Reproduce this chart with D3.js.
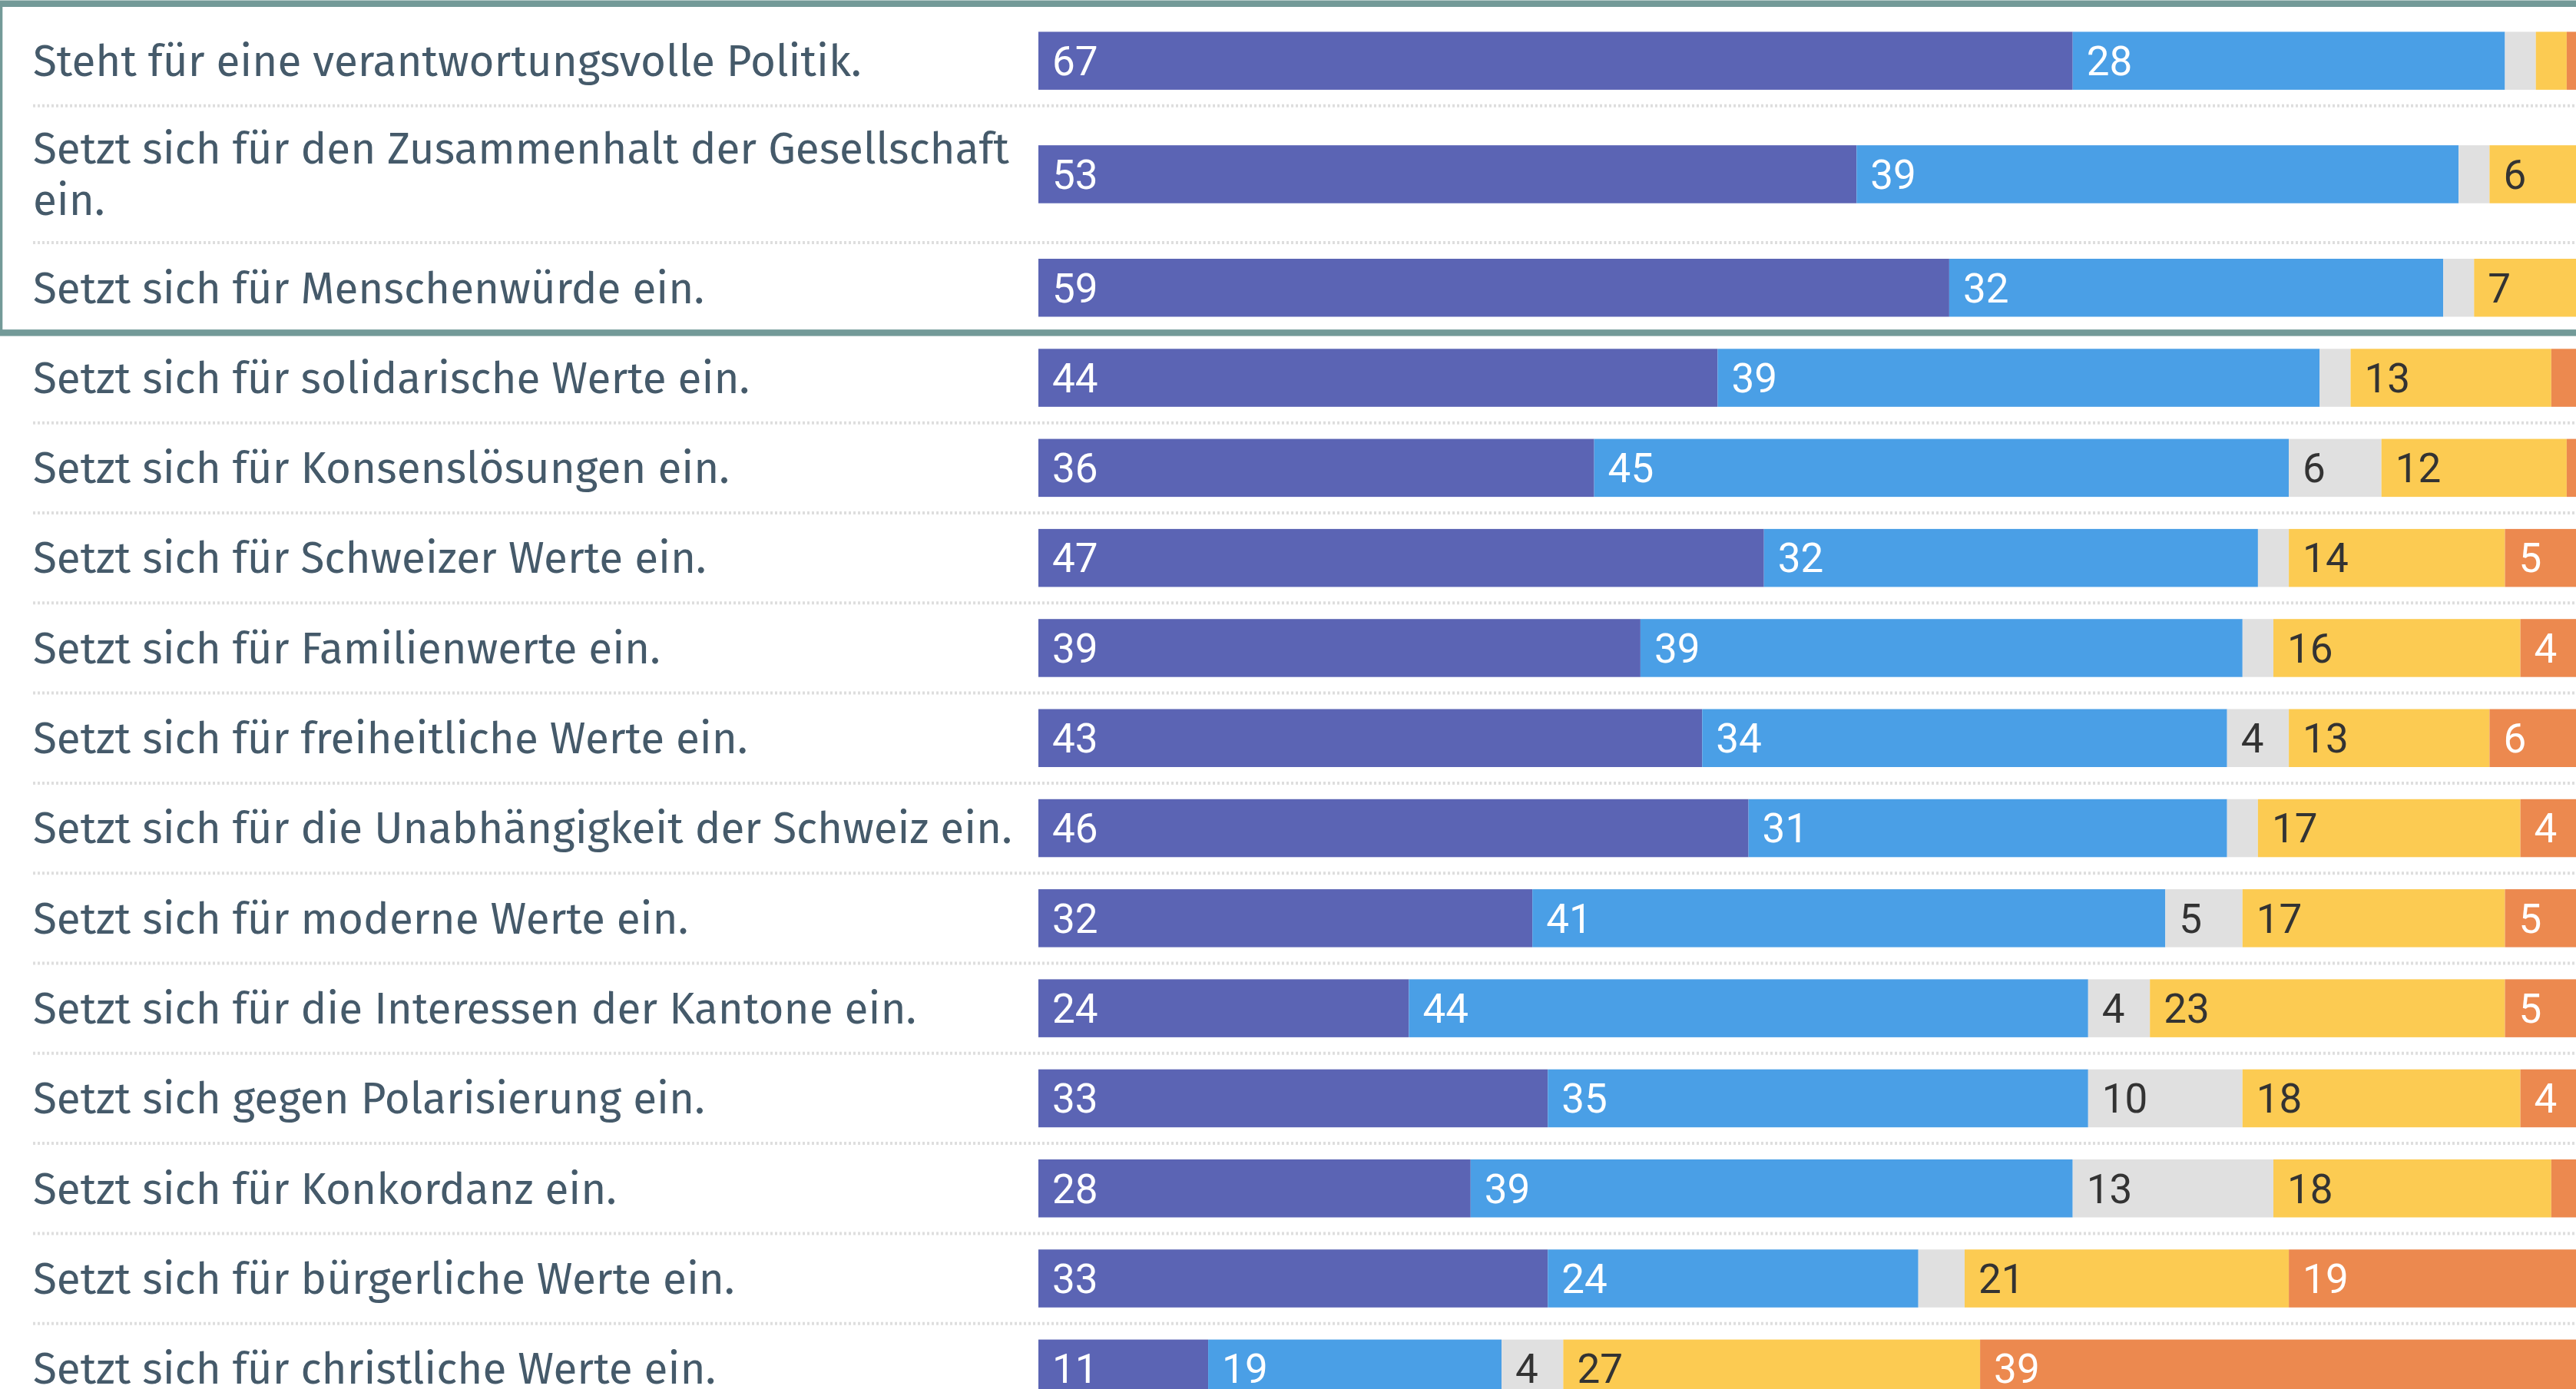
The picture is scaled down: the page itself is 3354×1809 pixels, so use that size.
<!DOCTYPE html>
<html>
<head>
<meta charset="utf-8">
<script src="https://cdn.jsdelivr.net/npm/d3@7"></script>
<style>
  html, body { margin: 0; padding: 0; background: #ffffff; overflow: hidden; }
  svg { display: block; }
</style>
</head>
<body>
<svg id="chart" width="3354" height="1809"></svg>
<script>
// ---------------- data ----------------
const categories = [
  "Steht für eine verantwortungsvolle Politik.",
  "Setzt sich für den Zusammenhalt der Gesellschaft ein.",
  "Setzt sich für Menschenwürde ein.",
  "Setzt sich für solidarische Werte ein.",
  "Setzt sich für Konsenslösungen ein.",
  "Setzt sich für Schweizer Werte ein.",
  "Setzt sich für Familienwerte ein.",
  "Setzt sich für freiheitliche Werte ein.",
  "Setzt sich für die Unabhängigkeit der Schweiz ein.",
  "Setzt sich für moderne Werte ein.",
  "Setzt sich für die Interessen der Kantone ein.",
  "Setzt sich gegen Polarisierung ein.",
  "Setzt sich für Konkordanz ein.",
  "Setzt sich für bürgerliche Werte ein.",
  "Setzt sich für christliche Werte ein."
];
const seriesNames = ["Trifft voll zu", "Trifft eher zu", "Weiss nicht", "Trifft eher nicht zu", "Trifft gar nicht zu"];
const trifftVoll      = [67, 53, 59, 44, 36, 47, 39, 43, 46, 32, 24, 33, 28, 33, 11];
const trifftEher      = [28, 39, 32, 39, 45, 32, 39, 34, 31, 41, 44, 35, 39, 24, 19];
const weissNicht      = [ 2,  2,  2,  2,  6,  2,  2,  4,  2,  5,  4, 10, 13,  3,  4];
const eherNicht       = [ 2,  6,  7, 13, 12, 14, 16, 13, 17, 17, 23, 18, 18, 21, 27];
const garNicht        = [ 1,  0,  0,  2,  1,  5,  4,  6,  4,  5,  5,  4,  2, 19, 39];
const highlightedRows = 3;
const minLabelValue = 4;

// ---------------- styles ----------------
const colors = ["#5b64b4", "#4a9fe6", "#e0e0e0", "#fccb52", "#ec894f"];
const textOnSeg = ["#ffffff", "#ffffff", "#333333", "#333333", "#ffffff"];
const labelColor = "#455a6a";
const frameColor = "#739a98";
const sepColor = "#dedede";

const W = 3354, H = 1809;
const labelX = 43;
const labelTargetWidth = 1275;   // width of the longest single-line label
const wrapWidth = 1300;
const barX0 = 1352, barX1 = 3362;
const rowH = 117.3, extraLineH = 61, lineSpacing = 66.7;
const barH = 75.5;
const firstRowTop = 20.5;

const svg = d3.select("#chart");

// ---------------- table ----------------
const table = categories.map((c, i) => ({
  category: c,
  [seriesNames[0]]: trifftVoll[i],
  [seriesNames[1]]: trifftEher[i],
  [seriesNames[2]]: weissNicht[i],
  [seriesNames[3]]: eherNicht[i],
  [seriesNames[4]]: garNicht[i]
}));
const stacked = d3.stack().keys(seriesNames)(table);

// ---------------- font fitting + wrapping ----------------
const labelFont = "'Fira Sans', 'Open Sans', 'Noto Sans', sans-serif";
const meas = svg.append("text").attr("font-family", labelFont).attr("font-size", 50)
  .text("Setzt sich für die Unabhängigkeit der Schweiz ein.");
const baseW = meas.node().getComputedTextLength();
const labelSize = 50 * labelTargetWidth / baseW;
meas.attr("font-size", labelSize);

function wrap(str) {
  const words = str.split(" ");
  const lines = [];
  let cur = "";
  words.forEach(w => {
    const test = cur ? cur + " " + w : w;
    meas.text(test);
    if (meas.node().getComputedTextLength() > wrapWidth && cur) {
      lines.push(cur); cur = w;
    } else cur = test;
  });
  lines.push(cur);
  return lines;
}
const wrapped = categories.map(wrap);
meas.remove();

// ---------------- vertical layout ----------------
const rowTops = [], rowHeights = [];
let yAcc = firstRowTop;
wrapped.forEach(lines => {
  const h = rowH + (lines.length - 1) * extraLineH;
  rowTops.push(yAcc); rowHeights.push(h); yAcc += h;
});
const centers = rowTops.map((t, i) => t + rowHeights[i] / 2);

// ---------------- scales ----------------
const x = d3.scaleLinear().domain([0, 100]).range([barX0, barX1]);
const color = d3.scaleOrdinal().domain(seriesNames).range(colors);
const txtColor = d3.scaleOrdinal().domain(seriesNames).range(textOnSeg);

// ---------------- separators ----------------
const sepYs = [];
for (let i = 0; i < categories.length; i++) {
  if (i === highlightedRows - 1) continue;
  sepYs.push(rowTops[i] + rowHeights[i]);
}
svg.append("g").selectAll("line").data(sepYs).join("line")
  .attr("x1", labelX).attr("x2", W)
  .attr("y1", d => d).attr("y2", d => d)
  .attr("stroke", sepColor).attr("stroke-width", 4)
  .attr("stroke-dasharray", "3 3");

// ---------------- category labels ----------------
const lg = svg.append("g");
wrapped.forEach((lines, i) => {
  const n = lines.length;
  const capH = labelSize * 0.7;
  const firstBase = centers[i] + capH / 2 - (n - 1) * lineSpacing / 2;
  const t = lg.append("text")
    .attr("font-family", labelFont).attr("font-size", labelSize)
    .attr("fill", labelColor);
  lines.forEach((ln, k) => {
    t.append("tspan").attr("x", labelX).attr("y", firstBase + k * lineSpacing).text(ln);
  });
});

// ---------------- bars ----------------
const valueFont = "Roboto, 'DejaVu Sans', sans-serif";
const valueSize = 53;
const groups = svg.append("g").selectAll("g").data(stacked).join("g")
  .attr("fill", d => color(d.key));
groups.selectAll("rect").data(d => d).join("rect")
  .attr("x", d => x(d[0]))
  .attr("width", d => Math.max(0, x(d[1]) - x(d[0])))
  .attr("y", (d, i) => centers[i] - barH / 2)
  .attr("height", barH);

const vl = svg.append("g");
stacked.forEach(s => {
  s.forEach((d, i) => {
    const v = d[1] - d[0];
    if (v < minLabelValue) return;
    vl.append("text")
      .attr("x", x(d[0]) + 18)
      .attr("y", centers[i] + valueSize * 0.711 / 2)
      .attr("font-family", valueFont).attr("font-size", valueSize)
      .attr("fill", txtColor(s.key))
      .text(v);
  });
});

// ---------------- highlight frame ----------------
const frameTop = firstRowTop - 15.75;
const frameBottom = rowTops[highlightedRows - 1] + rowHeights[highlightedRows - 1];
svg.append("rect")
  .attr("x", -0.95).attr("y", frameTop)
  .attr("width", W + 20).attr("height", frameBottom - frameTop)
  .attr("fill", "none").attr("stroke", frameColor).attr("stroke-width", 8.5);
</script>
</body>
</html>
